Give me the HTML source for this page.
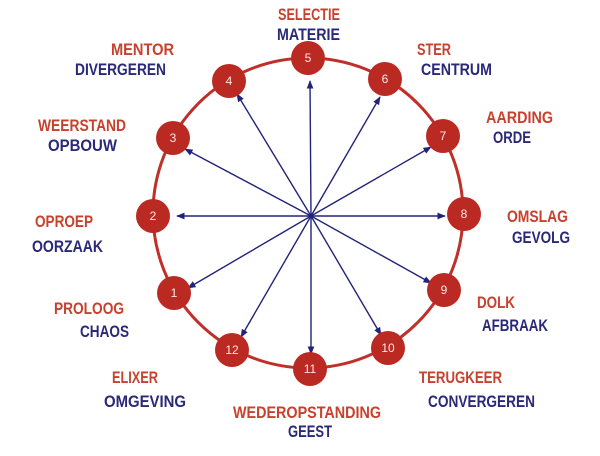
<!DOCTYPE html>
<html><head><meta charset="utf-8"><style>
html,body{margin:0;padding:0;background:#fff;}
svg{display:block;}
.r{fill:#c8402e;font:bold 16.5px "Liberation Sans",sans-serif;}
.b{fill:#2a2878;font:bold 16.5px "Liberation Sans",sans-serif;}
.n{fill:#fbe9e6;font:12px "Liberation Sans",sans-serif;text-anchor:middle;}
</style></head><body>
<svg width="600" height="456" viewBox="0 0 600 456" xmlns="http://www.w3.org/2000/svg">
<defs><marker id="a" viewBox="0 0 10 10" refX="9" refY="5" markerWidth="6" markerHeight="6" orient="auto"><path d="M0,1 L10,5 L0,9 Z" fill="#23237a"/></marker></defs>
<circle cx="308" cy="213" r="155" fill="none" stroke="#c0302a" stroke-width="3"/>
<g stroke="#23237a" stroke-width="1.4" marker-end="url(#a)">
<line x1="311" y1="216" x2="310" y2="81"/>
<line x1="311" y1="216" x2="237" y2="94"/>
<line x1="311" y1="216" x2="185" y2="149"/>
<line x1="311" y1="216" x2="177" y2="216"/>
<line x1="311" y1="216" x2="380" y2="97"/>
<line x1="311" y1="216" x2="431" y2="147"/>
<line x1="311" y1="216" x2="445" y2="216"/>
<line x1="311" y1="216" x2="431" y2="283"/>
<line x1="311" y1="216" x2="381" y2="335"/>
<line x1="311" y1="216" x2="311" y2="354"/>
<line x1="311" y1="216" x2="241" y2="337"/>
<line x1="311" y1="216" x2="188" y2="288"/>
</g>
<g fill="#bb2a22">
<circle cx="308" cy="58" r="17"/><circle cx="229" cy="81" r="17"/><circle cx="173" cy="138" r="17"/>
<circle cx="153" cy="216" r="17"/><circle cx="174" cy="293" r="17"/><circle cx="232" cy="350" r="17"/>
<circle cx="310" cy="369" r="17"/><circle cx="388" cy="348" r="17"/><circle cx="444" cy="290" r="17"/>
<circle cx="464" cy="214" r="17"/><circle cx="443" cy="136" r="17"/><circle cx="385" cy="79" r="17"/>
</g>
<g class="n">
<text x="308" y="62">5</text><text x="229" y="85">4</text><text x="173" y="142">3</text>
<text x="153" y="220">2</text><text x="174" y="297">1</text><text x="232" y="354">12</text>
<text x="310" y="373">11</text><text x="388" y="352">10</text><text x="444" y="294">9</text>
<text x="464" y="218">8</text><text x="443" y="140">7</text><text x="385" y="83">6</text>
</g>
<text class="r" x="278" y="20" textLength="62" lengthAdjust="spacingAndGlyphs">SELECTIE</text>
<text class="b" x="277" y="40" textLength="63" lengthAdjust="spacingAndGlyphs">MATERIE</text>
<text class="r" x="111" y="55" textLength="63" lengthAdjust="spacingAndGlyphs">MENTOR</text>
<text class="b" x="75" y="75" textLength="91" lengthAdjust="spacingAndGlyphs">DIVERGEREN</text>
<text class="r" x="417" y="55" textLength="34" lengthAdjust="spacingAndGlyphs">STER</text>
<text class="b" x="421" y="75" textLength="71" lengthAdjust="spacingAndGlyphs">CENTRUM</text>
<text class="r" x="486" y="123" textLength="67" lengthAdjust="spacingAndGlyphs">AARDING</text>
<text class="b" x="493" y="143" textLength="38" lengthAdjust="spacingAndGlyphs">ORDE</text>
<text class="r" x="38" y="131" textLength="88" lengthAdjust="spacingAndGlyphs">WEERSTAND</text>
<text class="b" x="48" y="151" textLength="69" lengthAdjust="spacingAndGlyphs">OPBOUW</text>
<text class="r" x="35" y="227" textLength="58" lengthAdjust="spacingAndGlyphs">OPROEP</text>
<text class="b" x="32" y="252" textLength="71" lengthAdjust="spacingAndGlyphs">OORZAAK</text>
<text class="r" x="507" y="222" textLength="61" lengthAdjust="spacingAndGlyphs">OMSLAG</text>
<text class="b" x="512" y="243" textLength="58" lengthAdjust="spacingAndGlyphs">GEVOLG</text>
<text class="r" x="54" y="314" textLength="70" lengthAdjust="spacingAndGlyphs">PROLOOG</text>
<text class="b" x="80" y="337" textLength="49" lengthAdjust="spacingAndGlyphs">CHAOS</text>
<text class="r" x="477" y="308" textLength="38" lengthAdjust="spacingAndGlyphs">DOLK</text>
<text class="b" x="482" y="331" textLength="66" lengthAdjust="spacingAndGlyphs">AFBRAAK</text>
<text class="r" x="112" y="383" textLength="46" lengthAdjust="spacingAndGlyphs">ELIXER</text>
<text class="b" x="104" y="407" textLength="82" lengthAdjust="spacingAndGlyphs">OMGEVING</text>
<text class="r" x="419" y="383" textLength="83" lengthAdjust="spacingAndGlyphs">TERUGKEER</text>
<text class="b" x="428" y="407" textLength="107" lengthAdjust="spacingAndGlyphs">CONVERGEREN</text>
<text class="r" x="233" y="418" textLength="148" lengthAdjust="spacingAndGlyphs">WEDEROPSTANDING</text>
<text class="b" x="288" y="437" textLength="44" lengthAdjust="spacingAndGlyphs">GEEST</text>
</svg>
</body></html>
